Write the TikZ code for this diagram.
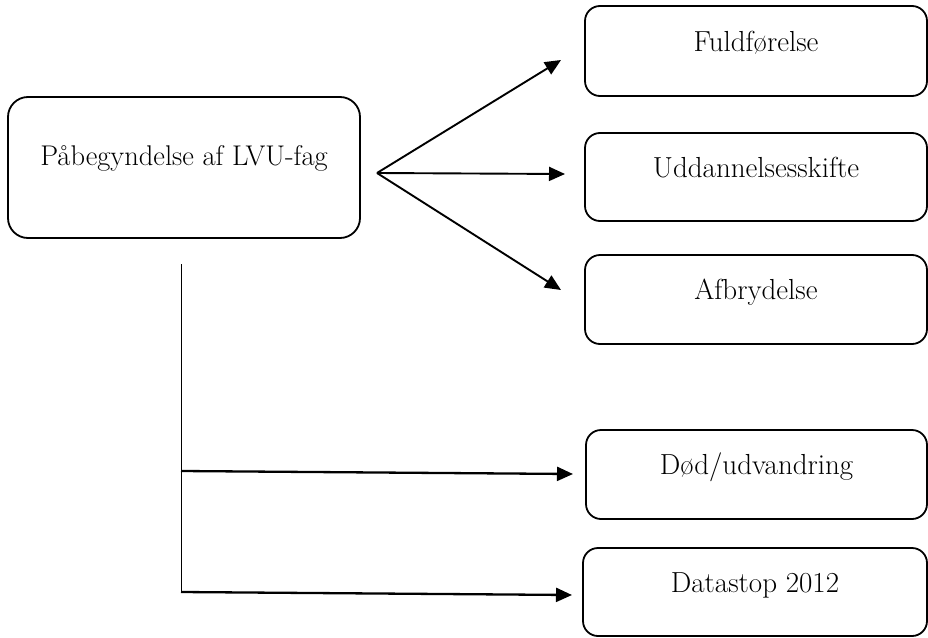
\documentclass[tikz,border=0pt]{standalone}
\usepackage{fontspec}
\usetikzlibrary{arrows.meta}
\begin{document}
\begin{tikzpicture}[x=1pt,y=-1pt,
  box/.style={draw, line width=1.8pt, rounded corners=15pt, inner sep=0pt,
    text height=12pt, text depth=12pt, font=\fontsize{29}{32}\selectfont},
  fan/.style={line width=1.9pt, -{Triangle[length=16pt,width=14pt]}},
  hor/.style={line width=2.3pt, -{Triangle[length=16pt,width=14pt]}}]
\useasboundingbox (0,0) rectangle (928,637);
\node[box, rounded corners=20pt, minimum width=352pt, minimum height=141pt,
  font=\fontsize{28.5}{31}\selectfont, text depth=14pt, text height=10pt] (start) at (184,167.5) {Påbegyndelse af LVU-fag};
\node[box, minimum width=342pt, minimum height=90pt] (b1) at (756,51) {Fuldførelse};
\node[box, minimum width=342pt, minimum height=88pt] (b2) at (756,177) {Uddannelsesskifte};
\node[box, minimum width=342pt, minimum height=89pt] (b3) at (756,299.5) {Afbrydelse};
\node[box, minimum width=341pt, minimum height=89pt] (b4) at (756.5,474.5) {Død/udvandring};
\node[box, minimum width=344pt, minimum height=88pt] (b5) at (755,592) {Datastop 2012};
\coordinate (o) at (377,173);
\coordinate (t1) at (561,60);
\coordinate (t2) at (565,174);
\coordinate (t3) at (561,290);
\coordinate (v1) at (181,264);
\coordinate (v2) at (181,592);
\coordinate (h1) at (181,471);
\coordinate (t4) at (573,474);
\coordinate (t5) at (572,595);
\draw[fan] (o) -- (t1);
\draw[fan] (o) -- (t2);
\draw[fan] (o) -- (t3);
\draw[line width=1pt] (v1) -- (v2);
\draw[hor] (h1) -- (t4);
\draw[hor] (v2) -- (t5);
\end{tikzpicture}
\end{document}
